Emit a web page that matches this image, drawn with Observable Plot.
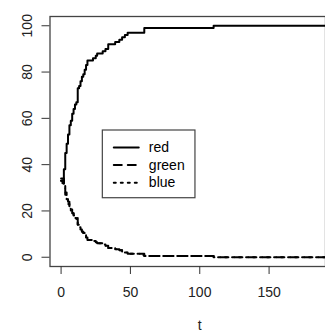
<!DOCTYPE html>
<html>
<head>
<meta charset="utf-8">
<script src="https://cdn.jsdelivr.net/npm/d3@7"></script>
<script src="https://cdn.jsdelivr.net/npm/@observablehq/plot@0.6"></script>
<style>
  html, body { margin: 0; padding: 0; background: #fff; }
  #wrap { width: 325px; height: 334px; overflow: hidden; position: relative; }
</style>
</head>
<body>
<div id="wrap"></div>
<script>
const t =     [0, 1, 2, 3, 4, 5, 6, 7, 8, 9, 10, 11, 12, 13, 14, 15, 16, 17, 18, 19, 21, 23, 25, 26, 28, 30, 32, 34, 37, 39, 42, 44, 46, 48, 52, 58, 60, 64, 110, 200];
const red =   [33, 32, 38, 45, 49, 53, 57, 59, 62, 64, 66, 67, 73, 74, 76, 78, 79, 81, 83, 85, 85, 86, 87, 88, 88, 89, 90, 92, 92, 93, 94, 95, 96, 97, 97, 97, 99, 99, 100, 100];
const green = [34, 34, 31, 28, 26, 24, 22, 21, 19, 18, 17, 17, 14, 13, 12, 11, 10.5, 9.5, 8.5, 7.5, 7.5, 7, 6.5, 6, 6, 5.5, 5, 4, 4, 3.5, 3, 2.5, 2, 1.5, 1.5, 1.5, 0.5, 0.5, 0, 0];
const blue =  [33, 34, 31, 27, 25, 23, 21, 20, 19, 18, 17, 16, 13, 13, 12, 11, 10.5, 9.5, 8.5, 7.5, 7.5, 7, 6.5, 6, 6, 5.5, 5, 4, 4, 3.5, 3, 2.5, 2, 1.5, 1.5, 1, 0.5, 0.5, 0, 0];
const seriesNames = ["red", "green", "blue"];
const xTicks = [0, 50, 100, 150];
const yTicks = [0, 20, 40, 60, 80, 100];
const xLabel = "t";

const dashes = {red: null, green: "8,6", blue: "2,5"};
const seriesData = {red, green, blue};
const rows = (name) => t.map((tt, i) => ({t: tt, v: seriesData[name][i]}));

const font = "'Liberation Sans', Arial, sans-serif";
const fs = 14;

// legend layout (data space, like R's legend())
const lg = {x1: 30.1, x2: 96.9, y1: 25.5, y2: 54.75, lx1: 38, lx2: 56, tx: 63.3, rows: [47.4, 39.8, 32.2]};
const legendRows = seriesNames.map((n, i) => ({name: n, y: lg.rows[i]}));

const marks = [
  Plot.frame({stroke: "#444", strokeWidth: 1.3}),
  Plot.axisX({ticks: xTicks, tickSize: 8, tickFormat: () => "", label: null, stroke: "#333"}),
  Plot.axisY({ticks: yTicks, tickSize: 8, tickFormat: () => "", label: null, stroke: "#333"}),
  Plot.text(xTicks, {x: d => d, frameAnchor: "bottom", dy: 26.5, text: d => String(d), fontSize: fs, fill: "#222", lineAnchor: "middle"}),
  Plot.text(yTicks, {y: d => d, frameAnchor: "left", dx: -22.5, rotate: -90, text: d => String(d), fontSize: fs, fill: "#222", lineAnchor: "middle", textAnchor: "middle"}),
  Plot.text([xLabel], {x: () => 100, frameAnchor: "bottom", dy: 59, text: d => d, fontSize: fs, fill: "#222", lineAnchor: "middle"}),
];
for (const n of seriesNames) {
  marks.push(Plot.line(rows(n), {x: "t", y: "v", curve: "step-after", stroke: "#000", strokeWidth: 2, strokeDasharray: dashes[n], clip: true}));
}
marks.push(
  Plot.rect([0], {x1: lg.x1, x2: lg.x2, y1: lg.y1, y2: lg.y2, fill: "#fff", stroke: "#444", strokeWidth: 1.2}),
  ...seriesNames.map((n, i) => Plot.line([[lg.lx1, lg.rows[i]], [lg.lx2, lg.rows[i]]], {stroke: "#000", strokeWidth: 2, strokeDasharray: dashes[n]})),
  Plot.text(legendRows, {x: lg.tx, y: "y", text: "name", textAnchor: "start", lineAnchor: "middle", fontSize: fs, fill: "#000"})
);

const chart = Plot.plot({
  width: 325,
  height: 334,
  marginLeft: 49.5,
  marginTop: 16,
  marginBottom: 68,
  marginRight: 0,
  style: {fontFamily: font, background: "#fff"},
  x: {domain: [-8, 208], range: [49.5, 349]},
  y: {domain: [-4, 104]},
  marks
});
document.getElementById("wrap").appendChild(chart);
</script>
</body>
</html>
